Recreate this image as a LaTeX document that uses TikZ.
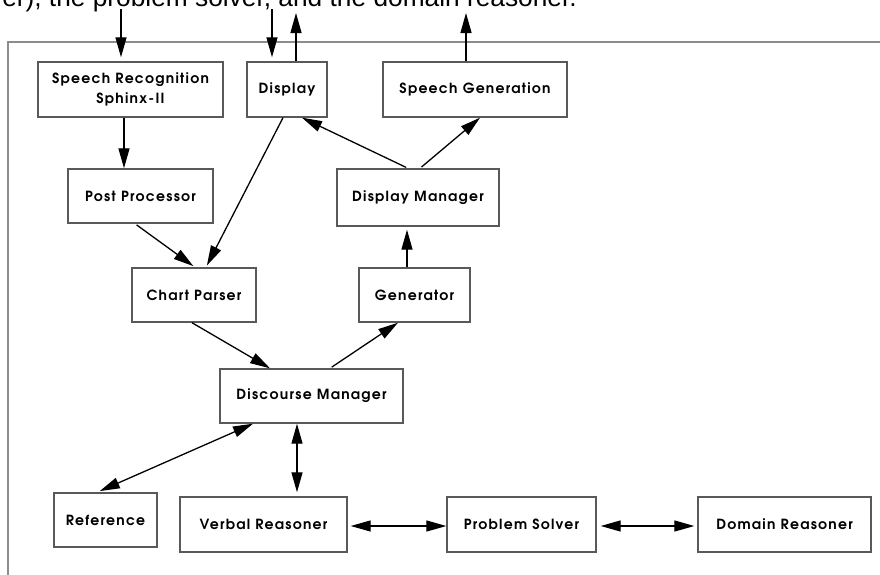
\documentclass[tikz,border=0pt]{standalone}
\usepackage{fontspec}
\setmainfont{Liberation Sans}
\newfontfamily\boxfont{texgyreadventor-bold.otf}[LetterSpace=9]
\usetikzlibrary{arrows.meta}
\begin{document}
\begin{tikzpicture}[x=1pt,y=-1pt,
  box/.style={draw=black!65, line width=1.4pt, inner sep=0pt, align=center,
    font=\boxfont\fontsize{14}{20}\selectfont},
  arr/.style={line width=1.3pt, -{Triangle[length=20pt,width=11pt]}},
  biarr/.style={line width=1.3pt, {Triangle[length=20pt,width=11pt]}-{Triangle[length=20pt,width=11pt]}},
  frameline/.style={draw=black!45, line width=1.8pt}]
\useasboundingbox (0,0) rectangle (880,574);
\clip (0,0) rectangle (880,574);

% caption fragment at top (cut by the picture's edge, as in the reference)
\node[anchor=base east, inner sep=0pt, font=\fontsize{26.3}{30}\selectfont] (cap) at (577,6.5)
  {er), the problem solver, and the domain reasoner.};

% frame
\draw[frameline] (8,580) -- (8,42) -- (885,42);

% boxes
\node[box, minimum width=185pt, minimum height=55pt] (sr)    at (130.5,89.5) {Speech Recognition\\Sphinx-II};
\node[box, minimum width=80pt,  minimum height=55pt] (disp)  at (287,89.5)   {Display};
\node[box, minimum width=184pt, minimum height=55pt] (sg)    at (475,89.5)   {Speech Generation};
\node[box, minimum width=145pt, minimum height=54pt] (pp)    at (140.5,196)  {Post Processor};
\node[box, minimum width=162pt, minimum height=57pt] (dm)    at (418,197.5)  {Display Manager};
\node[box, minimum width=124pt, minimum height=54pt] (cp)    at (194,295)    {Chart Parser};
\node[box, minimum width=111pt, minimum height=54pt] (gen)   at (414.5,295)  {Generator};
\node[box, minimum width=183pt, minimum height=54pt] (discm) at (311.5,396)  {Discourse Manager};
\node[box, minimum width=103pt, minimum height=54pt] (ref)   at (105.5,520)  {Reference};
\node[box, minimum width=167pt, minimum height=55pt] (vr)    at (263.5,524.5){Verbal Reasoner};
\node[box, minimum width=149pt, minimum height=55pt] (ps)    at (521.5,524.5){Problem Solver};
\node[box, minimum width=173pt, minimum height=55pt] (dr)    at (784.5,524.5){Domain Reasoner};

% external connectors
\coordinate (in1)  at (121,9);
\coordinate (in2)  at (272,9);
\coordinate (out1) at (296,13);
\coordinate (out2) at (466,13);
\draw[arr, shorten >=4pt] (in1) -- ([xshift=-9.5pt]sr.north);
\draw[arr, shorten >=4pt] (in2) -- ([xshift=-15pt]disp.north);
\draw[arr] ([xshift=9pt]disp.north) -- (out1);
\draw[arr] ([xshift=-9pt]sg.north) -- (out2);

% internal connectors
\draw[arr] ([xshift=-6.5pt]sr.south) -- ([xshift=-16.5pt]pp.north);
\draw[arr, shorten <=2pt, shorten >=2pt] ([xshift=-5.5pt]pp.south) -- ([xshift=1pt]cp.north);
\draw[arr, shorten >=2pt] ([xshift=-4pt]disp.south) -- ([xshift=12pt]cp.north);
\draw[arr, shorten <=2pt] ([xshift=-10pt]dm.north) -- ([xshift=15pt]disp.south);
\draw[arr, shorten <=2pt] ([xshift=2pt]dm.north) -- ([xshift=5pt]sg.south);
\draw[arr, shorten >=3pt] ([xshift=-7.5pt]gen.north) -- ([xshift=-11pt]dm.south);
\draw[arr] ([xshift=-2pt]cp.south) -- ([xshift=-41.5pt]discm.north);
\draw[arr, shorten <=2pt] ([xshift=18.5pt]discm.north) -- ([xshift=-16.5pt]gen.south);
\draw[biarr, shorten >=3pt] ([xshift=-58.5pt]discm.south) -- ([xshift=-8.5pt]ref.north);
\draw[biarr, shorten >=4pt] ([xshift=-14.5pt]discm.south) -- ([xshift=33.5pt]vr.north);
\draw[biarr, shorten <=3pt] ([yshift=-1.5pt]vr.east) -- ([yshift=-1.5pt]ps.west);
\draw[biarr, shorten <=4pt, shorten >=3pt] ([yshift=-1.5pt]ps.east) -- ([yshift=-1.5pt]dr.west);
\end{tikzpicture}
\end{document}
